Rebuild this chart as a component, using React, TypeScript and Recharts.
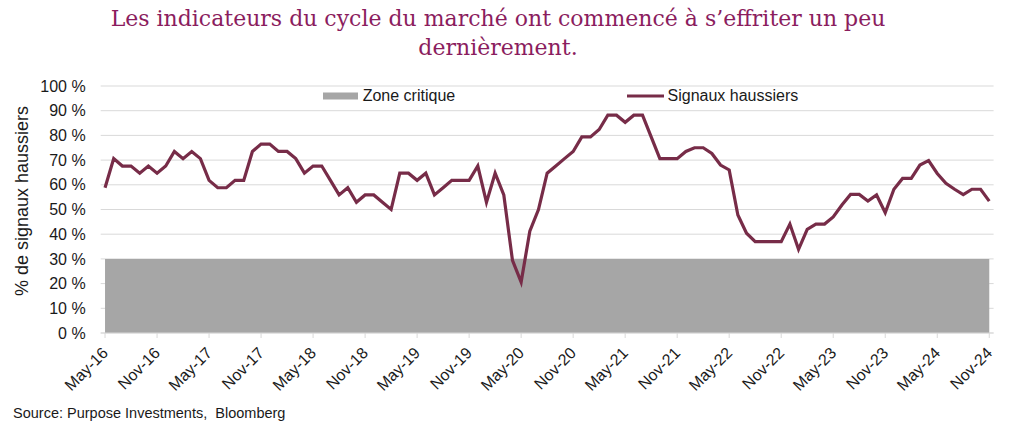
import { ComposedChart, Area, Line, XAxis, YAxis, CartesianGrid, Legend } from "recharts"

const months = [
  "May-16", "Jun-16", "Jul-16", "Aug-16", "Sep-16", "Oct-16", "Nov-16", "Dec-16",
  "Jan-17", "Feb-17", "Mar-17", "Apr-17", "May-17", "Jun-17", "Jul-17", "Aug-17", "Sep-17", "Oct-17", "Nov-17", "Dec-17",
  "Jan-18", "Feb-18", "Mar-18", "Apr-18", "May-18", "Jun-18", "Jul-18", "Aug-18", "Sep-18", "Oct-18", "Nov-18", "Dec-18",
  "Jan-19", "Feb-19", "Mar-19", "Apr-19", "May-19", "Jun-19", "Jul-19", "Aug-19", "Sep-19", "Oct-19", "Nov-19", "Dec-19",
  "Jan-20", "Feb-20", "Mar-20", "Apr-20", "May-20", "Jun-20", "Jul-20", "Aug-20", "Sep-20", "Oct-20", "Nov-20", "Dec-20",
  "Jan-21", "Feb-21", "Mar-21", "Apr-21", "May-21", "Jun-21", "Jul-21", "Aug-21", "Sep-21", "Oct-21", "Nov-21", "Dec-21",
  "Jan-22", "Feb-22", "Mar-22", "Apr-22", "May-22", "Jun-22", "Jul-22", "Aug-22", "Sep-22", "Oct-22", "Nov-22", "Dec-22",
  "Jan-23", "Feb-23", "Mar-23", "Apr-23", "May-23", "Jun-23", "Jul-23", "Aug-23", "Sep-23", "Oct-23", "Nov-23", "Dec-23",
  "Jan-24", "Feb-24", "Mar-24", "Apr-24", "May-24", "Jun-24", "Jul-24", "Aug-24", "Sep-24", "Oct-24", "Nov-24",
]

// % of bullish signals
const signauxHaussiers = [
  58.8, 70.6, 67.6, 67.6, 64.7, 67.6, 64.7, 67.6,
  73.5, 70.6, 73.5, 70.6, 61.8, 58.8, 58.8, 61.8, 61.8, 73.5, 76.5, 76.5,
  73.5, 73.5, 70.6, 64.7, 67.6, 67.6, 61.8, 55.9, 58.8, 52.9, 55.9, 55.9,
  52.9, 50.0, 64.7, 64.7, 61.8, 64.7, 55.9, 58.8, 61.8, 61.8, 61.8, 67.6,
  52.9, 64.7, 55.9, 29.4, 20.6, 41.2, 50.0, 64.7, 67.6, 70.6, 73.5, 79.4,
  79.4, 82.4, 88.2, 88.2, 85.3, 88.2, 88.2, 79.4, 70.6, 70.6, 70.6, 73.5,
  75.0, 75.0, 72.7, 68.0, 66.0, 47.8, 40.4, 37.0, 37.0, 37.0, 37.0, 44.1,
  33.9, 42.0, 44.1, 44.1, 47.0, 51.8, 56.1, 56.1, 53.4, 55.9, 48.7, 58.2,
  62.6, 62.6, 68.0, 69.8, 64.6, 60.6, 58.2, 56.0, 58.2, 58.2, 53.4,
]

const zoneCritique = 30
const yTicks = [0, 10, 20, 30, 40, 50, 60, 70, 80, 90, 100]

const data = months.map((month, i) => ({
  month,
  signaux: signauxHaussiers[i],
  zone: zoneCritique,
}))

const LINE_COLOR = "#772C48"
const GRAY = "#A6A6A6"
const TEXT = "#1a1a1a"
const FONT = "'Liberation Sans', Arial, sans-serif"

function MonthTick(props: any) {
  const { x, y, payload } = props
  const px = x + 4
  const py = y + 14
  return (
    <text x={px} y={py} transform={`rotate(-45 ${px} ${py})`} textAnchor="end" fontSize={16} fill={TEXT} fontFamily={FONT}>
      {payload.value}
    </text>
  )
}

function LegendContent() {
  return (
    <svg width={1024} height={24} style={{ display: "block" }}>
      <rect x={323} y={12.5} width={35} height={7} fill={GRAY} />
      <text x={362.7} y={20.7} fontSize={16} fill={TEXT} fontFamily={FONT}>Zone critique</text>
      <line x1={627} x2={664} y1={16} y2={16} stroke={LINE_COLOR} strokeWidth={3} />
      <text x={667.5} y={20.7} fontSize={16} fill={TEXT} fontFamily={FONT}>Signaux haussiers</text>
    </svg>
  )
}

export default function App() {
  return (
    <div style={{ position: "absolute", left: 0, top: 0, width: 1024, height: 433, background: "#fff", fontFamily: FONT }}>
      <div
        style={{
          position: "absolute",
          left: 0,
          top: 4,
          width: 996,
          textAlign: "center",
          fontFamily: "'DejaVu Serif', serif",
          fontSize: 22,
          lineHeight: "29px",
          color: "#8B1D5E",
        }}
      >
        Les indicateurs du cycle du marché ont commencé à s’effriter un peu
        <br />
        dernièrement.
      </div>
      <ComposedChart width={1024} height={433} data={data} margin={{ top: 86, right: 30.4, bottom: 40, left: 0 }}>
        <CartesianGrid vertical={false} stroke="#D9D9D9" />
        <XAxis
          dataKey="month"
          scale="band"
          interval={5}
          height={60}
          tickSize={5}
          axisLine={{ stroke: "#D9D9D9" }}
          tickLine={{ stroke: "#D9D9D9" }}
          tick={<MonthTick />}
        />
        <YAxis
          width={100.7}
          domain={[0, 100]}
          ticks={yTicks}
          axisLine={false}
          tickLine={false}
          tickSize={6}
          tickMargin={9}
          tickFormatter={(v: number) => `${v} %`}
          tick={{ fontSize: 16, fill: TEXT, fontFamily: FONT }}
          label={{
            content: () => (
              <text x={28} y={201} transform="rotate(-90 28 201)" textAnchor="middle" fontSize={18} fill={TEXT} fontFamily={FONT}>
                % de signaux haussiers
              </text>
            ),
          }}
        />
        <Legend
          verticalAlign="middle"
          align="center"
          layout="horizontal"
          wrapperStyle={{ top: 80, left: 0, width: 1024, height: 24 }}
          content={<LegendContent />}
        />
        <Area
          dataKey="zone"
          type="linear"
          fill={GRAY}
          fillOpacity={1}
          stroke="none"
          isAnimationActive={false}
          name="Zone critique"
        />
        <Line
          dataKey="signaux"
          type="linear"
          stroke={LINE_COLOR}
          strokeWidth={3.2}
          dot={false}
          isAnimationActive={false}
          name="Signaux haussiers"
        />
      </ComposedChart>
      <div style={{ position: "absolute", left: 13, top: 405, fontSize: 14.5, color: TEXT, whiteSpace: "pre" }}>
        Source: Purpose Investments,  Bloomberg
      </div>
    </div>
  )
}
